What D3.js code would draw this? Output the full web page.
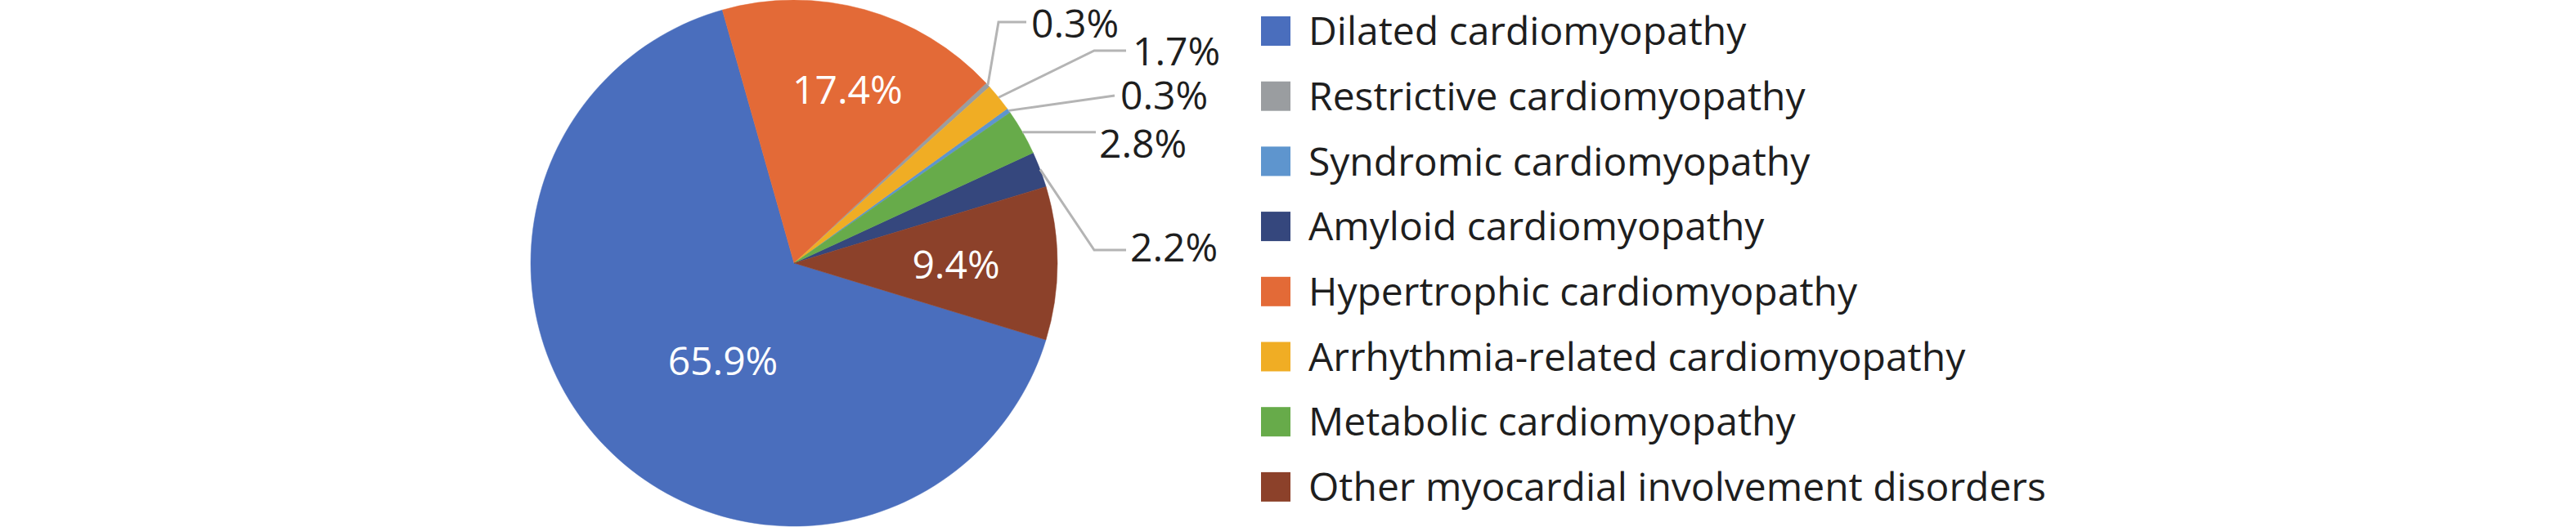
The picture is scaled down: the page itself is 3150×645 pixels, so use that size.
<!DOCTYPE html>
<html>
<head>
<meta charset="utf-8">
<script src="https://cdn.jsdelivr.net/npm/d3@7"></script>
<style>
  html, body { margin: 0; padding: 0; background: #fff; }
  text { font-family: "Open Sans", "Noto Sans", sans-serif; }
</style>
</head>
<body>
<div id="chart"></div>
<script>
// legend order
const categories = [
    "Dilated cardiomyopathy",
    "Restrictive cardiomyopathy",
    "Syndromic cardiomyopathy",
    "Amyloid cardiomyopathy",
    "Hypertrophic cardiomyopathy",
    "Arrhythmia-related cardiomyopathy",
    "Metabolic cardiomyopathy",
    "Other myocardial involvement disorders"
];
const shares = [65.9, 0.3, 0.3, 2.2, 17.4, 1.7, 2.8, 9.4];
const colors = ["#4a6ebd", "#9a9da0", "#5e95ce", "#35477d", "#e36a37", "#f0ad24", "#67ab4a", "#8c412a"];

// clockwise order of the slices, starting from the orange one
const sliceOrder = [
    "Hypertrophic cardiomyopathy",
    "Restrictive cardiomyopathy",
    "Arrhythmia-related cardiomyopathy",
    "Syndromic cardiomyopathy",
    "Metabolic cardiomyopathy",
    "Amyloid cardiomyopathy",
    "Other myocardial involvement disorders",
    "Dilated cardiomyopathy"
];

const width = 3150, height = 645;
const cx = 971, cy = 322, radius = 322;
const startAngle = -15.8 * Math.PI / 180;
const fontSize = 48;

const svg = d3.select("#chart").append("svg")
    .attr("width", width)
    .attr("height", height)
    .attr("viewBox", `0 0 ${width} ${height}`);

const data = categories.map((c, i) => ({ name: c, value: shares[i] }));
const color = d3.scaleOrdinal().domain(categories).range(colors);

const pie = d3.pie()
    .value(d => d.value)
    .sort((a, b) => sliceOrder.indexOf(a.name) - sliceOrder.indexOf(b.name))
    .startAngle(startAngle)
    .endAngle(startAngle + 2 * Math.PI);

const arcs = pie(data);
const arc = d3.arc().innerRadius(0).outerRadius(radius);

const g = svg.append("g").attr("transform", `translate(${cx},${cy})`);

g.selectAll("path.slice")
    .data(arcs)
    .enter()
    .append("path")
    .attr("class", "slice")
    .attr("d", arc)
    .attr("fill", d => color(d.data.name))
    .attr("stroke", d => color(d.data.name))
    .attr("stroke-width", 0.5);

// labels inside the big slices (radius factor, angle tweak in degrees)
const insideLabels = {
    "Hypertrophic cardiomyopathy": { r: 0.69, da: 1.6 },
    "Other myocardial involvement disorders": { r: 0.615, da: 0.5 },
    "Dilated cardiomyopathy": { r: 0.46, da: -9.6 }
};
// labels outside with leader lines (relative to pie centre)
// elbow: bend point of the leader, end: x where the leader stops
const outsideLabels = {
    "Restrictive cardiomyopathy": { x: 290, y: -293, elbow: [250, -295], end: 284 },
    "Arrhythmia-related cardiomyopathy": { x: 414, y: -259, elbow: [367, -260], end: 406 },
    "Syndromic cardiomyopathy": { x: 399, y: -205, elbow: null, end: 392 },
    "Metabolic cardiomyopathy": { x: 373, y: -146, elbow: "flat", end: 369 },
    "Amyloid cardiomyopathy": { x: 411, y: -19, elbow: [367, -16], end: 406 }
};

const fmt = v => `${v.toFixed(1)}%`;
const midAngle = d => (d.startAngle + d.endAngle) / 2;

arcs.forEach(d => {
    const name = d.data.name;
    if (insideLabels[name]) {
        const p = insideLabels[name];
        const a = midAngle(d) + p.da * Math.PI / 180;
        g.append("text")
            .attr("x", Math.sin(a) * radius * p.r)
            .attr("y", -Math.cos(a) * radius * p.r)
            .attr("text-anchor", "middle")
            .attr("dy", "0.36em")
            .attr("fill", "#fff")
            .style("font-size", fontSize + "px")
            .text(fmt(d.data.value));
    } else if (outsideLabels[name]) {
        const p = outsideLabels[name];
        const a = midAngle(d);
        const sx = Math.sin(a) * radius, sy = -Math.cos(a) * radius;
        let pts;
        if (p.elbow === "flat") {
            pts = [[sx, sy], [p.end, sy]];
        } else if (p.elbow) {
            pts = [[sx, sy], p.elbow, [p.end, p.elbow[1]]];
        } else {
            pts = [[sx, sy], [p.end, p.y]];
        }
        g.append("path")
            .attr("d", d3.line()(pts))
            .attr("fill", "none")
            .attr("stroke", "#b4b4b4")
            .attr("stroke-width", 3);
        g.append("text")
            .attr("x", p.x)
            .attr("y", p.y)
            .attr("dy", "0.36em")
            .attr("fill", "#1e1e1e")
            .style("font-size", fontSize + "px")
            .text(fmt(d.data.value));
    }
});

// legend
const legend = svg.append("g").attr("transform", "translate(1542, 38)");
const rowH = 79.7;

const rows = legend.selectAll(".row")
    .data(categories)
    .enter()
    .append("g")
    .attr("class", "row")
    .attr("transform", (d, i) => `translate(0, ${i * rowH})`);

rows.append("rect")
    .attr("x", 0)
    .attr("y", -18)
    .attr("width", 36)
    .attr("height", 36)
    .attr("fill", d => color(d));

rows.append("text")
    .attr("x", 58)
    .attr("y", 0)
    .attr("dy", "0.36em")
    .attr("fill", "#1e1e1e")
    .style("font-size", fontSize + "px")
    .text(d => d);
</script>
</body>
</html>
